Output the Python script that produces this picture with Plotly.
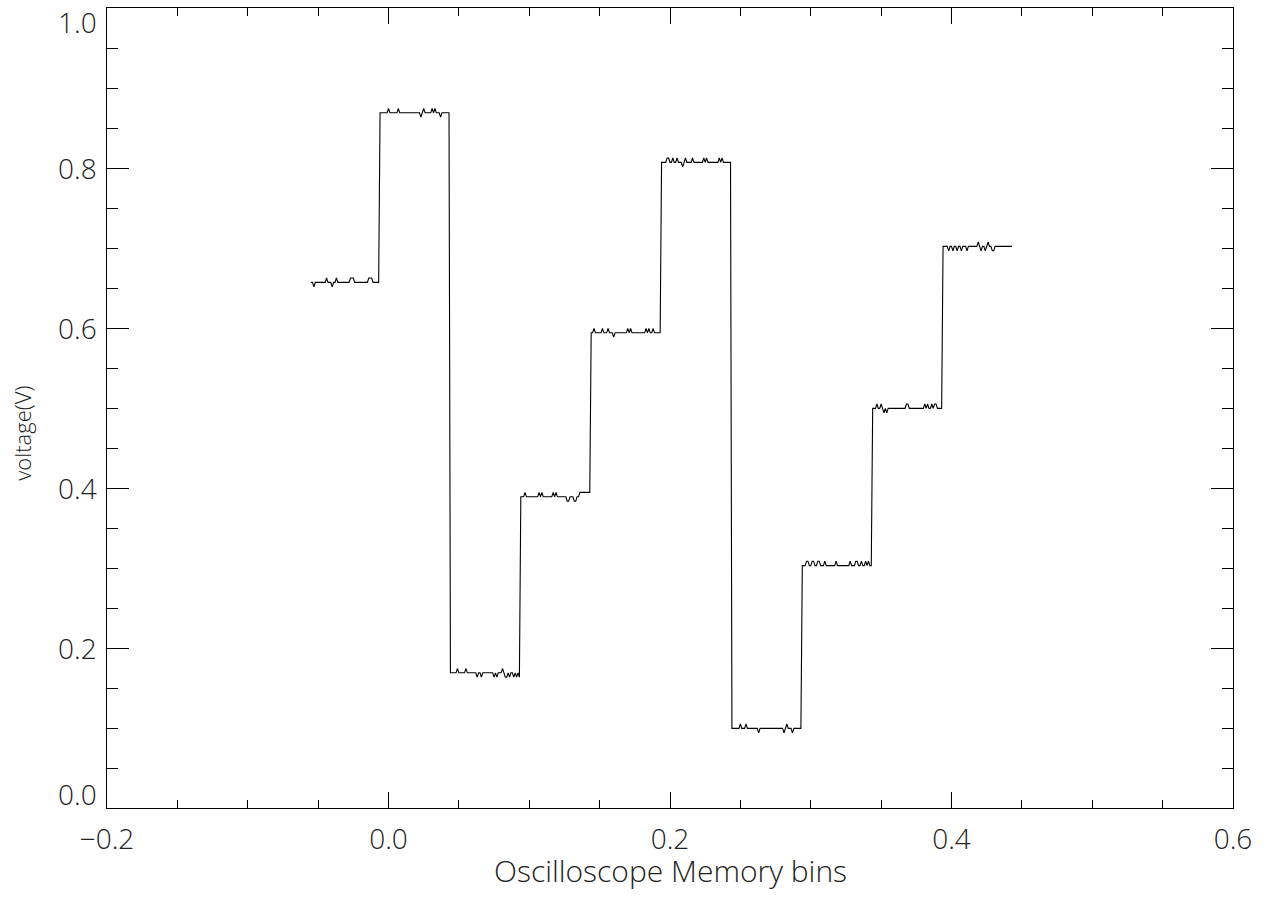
import plotly.graph_objects as go

# ---------------- data ----------------
x_start = -0.055          # first memory bin position
x_step = 0.001            # bin spacing
q_step = 0.0055           # ADC quantisation step (V)

# plateau base voltages
levels = [0.657, 0.869, 0.169, 0.389, 0.594, 0.807, 0.0995, 0.303, 0.4995, 0.702]

# per-sample deviation from the plateau level, in quantisation steps
# '0' = level, '+' = one step up, '-' = one step down
noise = [
    "00-0000000" "0+000-00+0" "00000000++" "+000000000" "0+++00000",
    "000000+000" "000+000000" "000000000-" "0+00000+0+" "000-000000",
    "00000+0000" "0+0000000-" "00-0000000" "0-0-000+0-" "-0-00-0-0-",
    "000+000000" "000+0+0000" "000+0+0000" "000--000--" "00++++++++",
    "00+00000+0" "00+000-000" "000000+0+0" "000000000+" "0+00+00000",
    "0000++00+0" "0+000-0+00" "00+0000000" "+0+0000000" "0+0+000000",
    "000000+000" "+00000000-" "0000000000" "0000000-0+" "000-000000",
    "000++00++0" "0++000+000" "0000+00000" "0000+000++" "00+00+0+00",
    "000+00+0-0" "-000000000" "0000++0000" "0000000+0+" "00+0++0000",
    "0000-00-00" "-00-000-00" "00000+0-00" "-0+00--000" "0000000000",
]

x_tick_vals = [-0.2, 0.0, 0.2, 0.4, 0.6]
y_tick_vals = [0.0, 0.2, 0.4, 0.6, 0.8, 1.0]
x_title = "Oscilloscope Memory bins"
y_title = "voltage(V)"

# ---------------- build series ----------------
step_map = {"0": 0, "+": 1, "-": -1}
volts = []
for lvl, pat in zip(levels, noise):
    for ch in pat:
        volts.append(lvl + q_step * step_map[ch])
bins = [x_start + x_step * i for i in range(len(volts))]

FONT = "Open Sans, DejaVu Sans, sans-serif"
W = 300


def fnt(size):
    return dict(family=FONT, size=size, color="#222222", weight=W)


fig = go.Figure()
fig.add_trace(go.Scatter(x=bins, y=volts, mode="lines",
                         line=dict(color="black", width=1.1),
                         showlegend=False, hoverinfo="skip"))

fig.update_layout(
    width=1270, height=897,
    margin=dict(l=107, r=37, t=8, b=89),
    paper_bgcolor="white", plot_bgcolor="white",
    font=fnt(27),
)

fig.update_xaxes(
    range=[-0.2, 0.6], tickvals=x_tick_vals, tickformat=".1f",
    showline=True, linecolor="black", linewidth=1, mirror="ticks",
    ticks="inside", ticklen=16, tickwidth=1, tickcolor="black",
    showgrid=False, zeroline=False,
    tickfont=fnt(28),
    ticklabelstandoff=6,
    minor=dict(dtick=0.05, tick0=0, ticks="inside", ticklen=8,
               tickwidth=1, tickcolor="black", showgrid=False),
)
fig.update_yaxes(
    range=[0, 1.0], tickvals=y_tick_vals, showticklabels=False,
    showline=True, linecolor="black", linewidth=1, mirror="ticks",
    ticks="inside", ticklen=22, tickwidth=1, tickcolor="black",
    showgrid=False, zeroline=False,
    minor=dict(dtick=0.05, tick0=0, ticks="inside", ticklen=11,
               tickwidth=1, tickcolor="black", showgrid=False),
)

# y tick labels (end labels kept inside the axis span, like the reference)
for v in y_tick_vals:
    if v == y_tick_vals[0]:
        ya, ys = "bottom", -7
    elif v == y_tick_vals[-1]:
        ya, ys = "top", 7
    else:
        ya, ys = "middle", 0
    fig.add_annotation(x=0, xref="paper", xanchor="right", xshift=-8,
                       y=v, yref="y", yanchor=ya, yshift=ys,
                       text=f"{v:.1f}", showarrow=False, font=fnt(28))

fig.add_annotation(x=0.5, xref="paper", y=0, yref="paper", yanchor="top",
                   yshift=-40, text=x_title, showarrow=False, font=fnt(30))
fig.add_annotation(x=-0.0755, xref="paper", y=0.469, yref="paper",
                   xanchor="center", yanchor="middle", textangle=-90,
                   text=y_title, showarrow=False, font=fnt(22))

fig.write_html("out.html")
